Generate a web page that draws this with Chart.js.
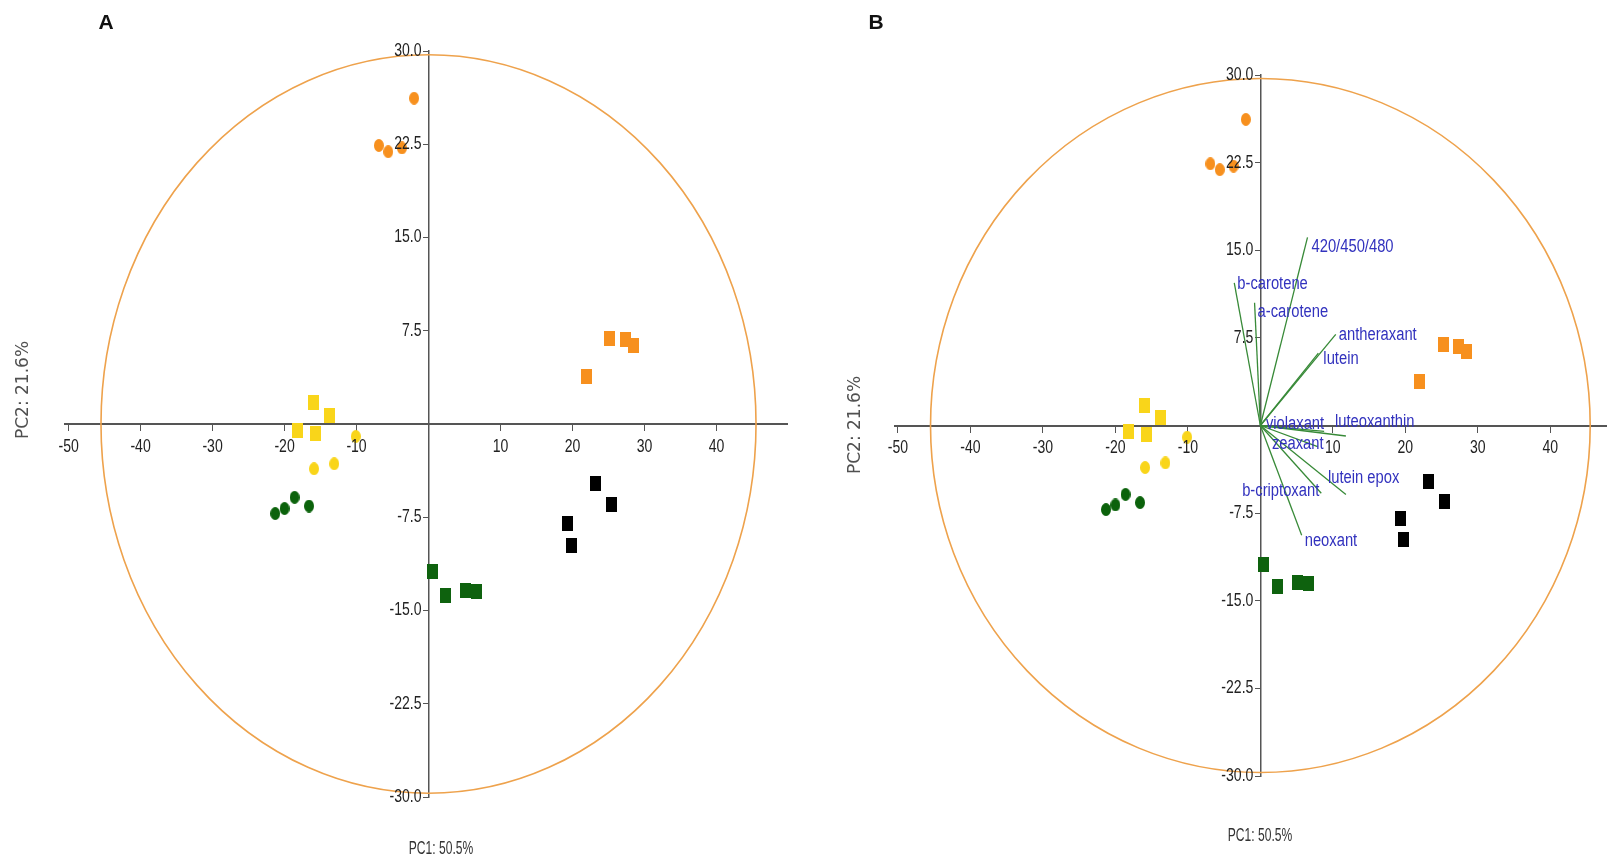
<!DOCTYPE html>
<html>
<head>
<meta charset="utf-8">
<script src="https://cdn.jsdelivr.net/npm/chart.js@4.4.1/dist/chart.umd.min.js"></script>
<style>
  html, body { margin: 0; padding: 0; background: #fff; }
  body { width: 1607px; height: 859px; position: relative; overflow: hidden; }
  .panel { position: absolute; top: 0; height: 859px; }
  #panelA { left: 0; width: 800px; }
  #panelB { left: 800px; width: 830px; }
</style>
</head>
<body>
<div class="panel" id="panelA"><canvas id="chartA"></canvas></div>
<div class="panel" id="panelB"><canvas id="chartB"></canvas></div>
<script>
// scores (PC1, PC2) per sample group
const orangeCircleX = [-2.0, -6.9, -5.6, -3.7];
const orangeCircleY = [26.2, 22.4, 21.9, 22.2];
const orangeSquareX = [21.9, 25.2, 27.3, 28.5];
const orangeSquareY = [3.8, 6.9, 6.8, 6.3];
const yellowSquareX = [-16.0, -13.8, -18.2, -15.7];
const yellowSquareY = [1.7, 0.7, -0.5, -0.8];
const yellowCircleX = [-10.1, -15.9, -13.1];
const yellowCircleY = [-1.0, -3.6, -3.2];
const greenCircleX = [-21.3, -20.0, -18.6, -16.6];
const greenCircleY = [-7.2, -6.8, -5.9, -6.6];
const blackSquareX = [23.2, 25.4, 19.3, 19.8];
const blackSquareY = [-4.8, -6.5, -8.0, -9.8];
const greenSquareX = [0.5, 2.3, 5.1, 6.6];
const greenSquareY = [-11.9, -13.8, -13.4, -13.5];

// loadings (panel B), scaled to the score plot
const loadingNames = ['420/450/480', 'b-carotene', 'a-carotene', 'antheraxant', 'lutein',
  'luteoxanthin', 'violaxant', 'zeaxant', 'lutein epox', 'b-criptoxant', 'neoxant'];
const loadingX = [6.5, -3.6, -0.8, 10.4, 8.0, 11.8, 8.8, 7.9, 11.8, 8.4, 5.7];
const loadingY = [16.1, 12.2, 10.5, 7.8, 6.2, -0.9, -0.5, -1.8, -5.9, -5.8, -9.4];

// Hotelling T2 ellipse half-axes
const ellipseRX = 45.5;
const ellipseRY = 29.7;

const pc1Title = 'PC1: 50.5%';
const pc2Title = 'PC2: 21.6%';

// label placement for the loading names
const labelAlign = ['left', 'left', 'left', 'left', 'left', 'left', 'right', 'right', 'left', 'right', 'left'];
const labelDx = [4, 3, 3, 3, 5, -11, 0, 6, -18, -2, 3];
const labelDy = [10, 1, 9, 1, 6, -14, -7, -2, -16, -2, 6];

const FONT = '"Liberation Sans", Arial, sans-serif';

// narrow text, the original figure uses a condensed face
function narrowText(ctx, text, px, py, align, size, squeeze) {
  ctx.save();
  ctx.translate(px, py);
  ctx.scale(squeeze, 1);
  ctx.textAlign = align;
  ctx.textBaseline = 'middle';
  ctx.font = size + 'px ' + FONT;
  ctx.fillText(text, 0, 0);
  ctx.restore();
}

function marker(shape, color, w, h) {
  const c = document.createElement('canvas');
  c.width = w;
  c.height = h;
  const g = c.getContext('2d');
  g.fillStyle = color;
  if (shape === 'circle') {
    g.beginPath();
    g.ellipse(w / 2, h / 2, w / 2, h / 2, 0, 0, Math.PI * 2);
    g.fill();
  } else {
    g.fillRect(0, 0, w, h);
  }
  return c;
}

const toPoints = (xs, ys) => xs.map((x, i) => ({ x: x, y: ys[i] }));

function scoreDatasets() {
  const groups = [
    [orangeCircleX, orangeCircleY, 'circle', '#F7901E'],
    [orangeSquareX, orangeSquareY, 'rect', '#F7901E'],
    [yellowSquareX, yellowSquareY, 'rect', '#F9D51A'],
    [yellowCircleX, yellowCircleY, 'circle', '#F9D51A'],
    [greenCircleX, greenCircleY, 'circle', '#0B620B'],
    [blackSquareX, blackSquareY, 'rect', '#000000'],
    [greenSquareX, greenSquareY, 'rect', '#0E620E']
  ];
  return groups.map(g => ({
    data: toPoints(g[0], g[1]),
    pointStyle: g[2] === 'circle' ? marker('circle', g[3], 10, 13) : marker('rect', g[3], 11, 15)
  }));
}

function loadingDatasets() {
  return loadingNames.map((name, i) => ({
    label: name,
    data: [{ x: 0, y: 0 }, { x: loadingX[i], y: loadingY[i] }],
    showLine: true,
    borderColor: '#388A38',
    borderWidth: 1.3,
    pointRadius: 0
  }));
}

const ellipsePlugin = {
  id: 'ellipse',
  beforeDatasetsDraw(chart) {
    const { ctx, scales: { x, y } } = chart;
    const cx = x.getPixelForValue(0);
    const cy = y.getPixelForValue(0);
    const rx = x.getPixelForValue(ellipseRX) - cx;
    const ry = cy - y.getPixelForValue(ellipseRY);
    ctx.save();
    ctx.strokeStyle = '#EEA24C';
    ctx.lineWidth = 1.6;
    ctx.beginPath();
    ctx.ellipse(cx, cy, rx, ry, 0, 0, Math.PI * 2);
    ctx.stroke();
    ctx.restore();
  }
};

const tickLabelPlugin = {
  id: 'tickLabels',
  afterDraw(chart) {
    const { ctx, scales: { x, y } } = chart;
    const x0 = x.getPixelForValue(0);
    const y0 = y.getPixelForValue(0);
    ctx.save();
    ctx.fillStyle = '#222';
    x.ticks.forEach(t => {
      if (t.label) narrowText(ctx, t.label, x.getPixelForValue(t.value), y0 + 23, 'center', 18, 0.78);
    });
    y.ticks.forEach(t => {
      if (t.label) narrowText(ctx, t.label, x0 - 7, y.getPixelForValue(t.value), 'right', 18, 0.78);
    });
    ctx.restore();
  }
};

const loadingLabelPlugin = {
  id: 'loadingLabels',
  afterDatasetsDraw(chart) {
    const { ctx, scales: { x, y } } = chart;
    ctx.save();
    ctx.fillStyle = '#3232BE';
    loadingNames.forEach((name, i) => {
      narrowText(ctx, name, x.getPixelForValue(loadingX[i]) + labelDx[i],
        y.getPixelForValue(loadingY[i]) + labelDy[i], labelAlign[i], 18, 0.82);
    });
    ctx.restore();
  }
};

function textPlugin(t) {
  return {
    id: 'panelText',
    afterDraw(chart) {
      const ctx = chart.ctx;
      ctx.save();
      ctx.fillStyle = '#111';
      ctx.font = 'bold 21px ' + FONT;
      ctx.textAlign = 'center';
      ctx.textBaseline = 'middle';
      ctx.fillText(t.letter, t.letterX, 23);

      ctx.fillStyle = '#333';
      narrowText(ctx, pc1Title, t.pc1X, t.pc1Y, 'center', 18, 0.67);

      ctx.translate(t.pc2X, t.pc2Y);
      ctx.rotate(-Math.PI / 2);
      ctx.fillStyle = '#505050';
      ctx.font = '17px "DejaVu Sans", sans-serif';
      ctx.textAlign = 'center';
      ctx.textBaseline = 'middle';
      ctx.fillText(pc2Title, 0, 0);
      ctx.restore();
    }
  };
}

function buildChart(id, cfg) {
  const datasets = scoreDatasets();
  const plugins = [ellipsePlugin, tickLabelPlugin, textPlugin(cfg.text)];
  if (cfg.loadings) {
    datasets.push(...loadingDatasets());
    plugins.push(loadingLabelPlugin);
  }
  return new Chart(document.getElementById(id), {
    type: 'scatter',
    data: { datasets: datasets },
    options: {
      responsive: true,
      maintainAspectRatio: false,
      animation: false,
      layout: { padding: cfg.padding },
      plugins: { legend: { display: false }, tooltip: { enabled: false } },
      scales: {
        x: {
          type: 'linear',
          min: cfg.xMin,
          max: cfg.xMax,
          position: { y: 0 },
          ticks: {
            display: false,
            stepSize: 10,
            includeBounds: false,
            autoSkip: false,
            callback: v => (v === 0 ? '' : String(v))
          },
          grid: { drawOnChartArea: false, tickLength: 6, color: '#555' },
          border: { color: '#555', width: 2 }
        },
        y: {
          type: 'linear',
          min: -30,
          max: 30,
          position: { x: 0 },
          ticks: {
            display: false,
            stepSize: 7.5,
            includeBounds: false,
            autoSkip: false,
            callback: v => (v === 0 ? '' : v.toFixed(1))
          },
          grid: { drawOnChartArea: false, tickLength: 5, color: '#555' },
          border: { color: '#555', width: 1.5 }
        }
      }
    },
    plugins: plugins
  });
}

buildChart('chartA', {
  xMin: -50.5, xMax: 49.9,
  padding: { left: 65, right: 12.3, top: 51, bottom: 62 },
  loadings: false,
  text: { letter: 'A', letterX: 106, pc1X: 441, pc1Y: 849, pc2X: 24, pc2Y: 390 }
});

buildChart('chartB', {
  xMin: -50.4, xMax: 50.3,
  padding: { left: 95, right: 0, top: 75, bottom: 83 },
  loadings: true,
  text: { letter: 'B', letterX: 76, pc1X: 460, pc1Y: 836, pc2X: 56, pc2Y: 425 }
});
</script>
</body>
</html>
